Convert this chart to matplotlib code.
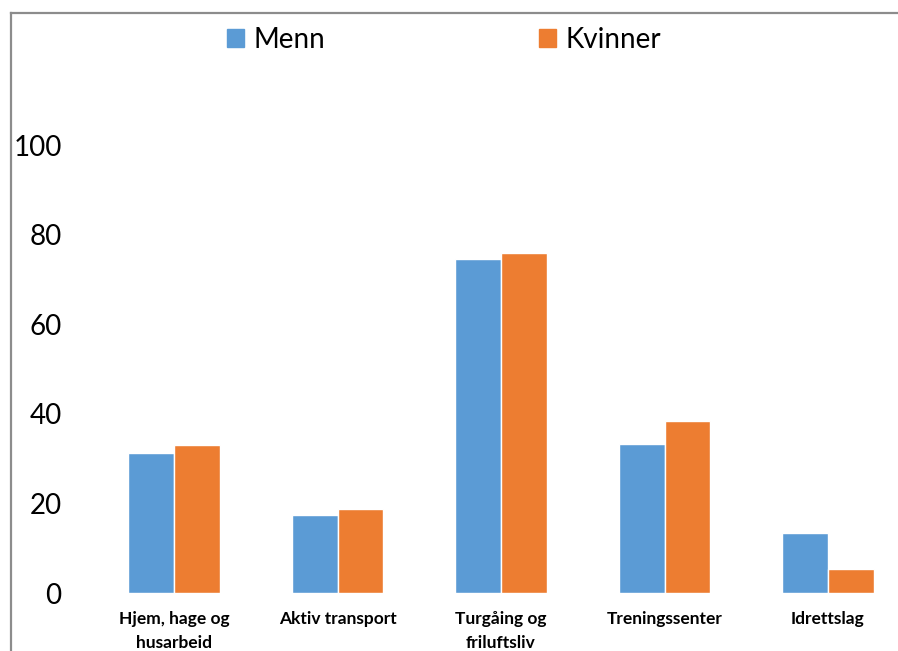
import matplotlib
matplotlib.use("Agg")
import matplotlib.pyplot as plt
from matplotlib.lines import Line2D
from matplotlib.patches import Patch
import numpy as np

categories = ["Hjem, hage og\nhusarbeid", "Aktiv transport", "Turgåing og\nfriluftsliv",
              "Treningssenter", "Idrettslag"]
menn = [31.2, 17.5, 74.5, 33.4, 13.4]
kvinner = [33.1, 18.8, 76.0, 38.5, 5.4]
series_names = ["Menn", "Kvinner"]
yticks = [0, 20, 40, 60, 80, 100]

blue = "#5B9BD5"
orange = "#ED7D31"

plt.rcParams['font.family'] = ['Lato', 'DejaVu Sans']

W, H = 898, 651
fig = plt.figure(figsize=(W / 100, H / 100), dpi=100)
fig.patch.set_facecolor("white")

left_px, right_px = 92.25, 909.75
bottom_px, top_px = 593.3, 145.0
ax = fig.add_axes([left_px / W, (H - bottom_px) / H, (right_px - left_px) / W, (bottom_px - top_px) / H])
ax.set_facecolor("none")

x = np.arange(len(categories))
bw = 0.281
ax.bar(x - bw / 2, menn, width=bw, color=blue, edgecolor="white", linewidth=1.0, label=series_names[0])
ax.bar(x + bw / 2, kvinner, width=bw, color=orange, edgecolor="white", linewidth=1.0, label=series_names[1])

ax.set_xlim(-0.5, 4.5)
ax.set_ylim(0, 100)
ax.set_yticks(yticks)
ax.set_yticklabels([str(v) for v in yticks], fontsize=20)
ax.set_xticks(x)
ax.set_xticklabels(categories, fontsize=12.5, fontweight="bold", linespacing=1.55)
ax.tick_params(axis="y", length=0, pad=22)
ax.tick_params(axis="x", length=0, pad=13)
for s in ax.spines.values():
    s.set_visible(False)

handles = [Patch(facecolor=blue, edgecolor=blue), Patch(facecolor=orange, edgecolor=orange)]
fig.legend(handles, series_names, loc="center", bbox_to_anchor=(444 / W, 1 - 40 / H),
           ncol=2, frameon=False, fontsize=20, columnspacing=7.7,
           handlelength=0.6, handleheight=0.6, handletextpad=0.35)

ly = 1 - 12.5 / H
lx = 10.5 / W
fig.add_artist(Line2D([lx, 1.0], [ly, ly], transform=fig.transFigure, color="#8c8c8c", linewidth=1.6))
fig.add_artist(Line2D([lx, lx], [ly, 0.0], transform=fig.transFigure, color="#8c8c8c", linewidth=1.6))

fig.savefig("out.png", dpi=100)
